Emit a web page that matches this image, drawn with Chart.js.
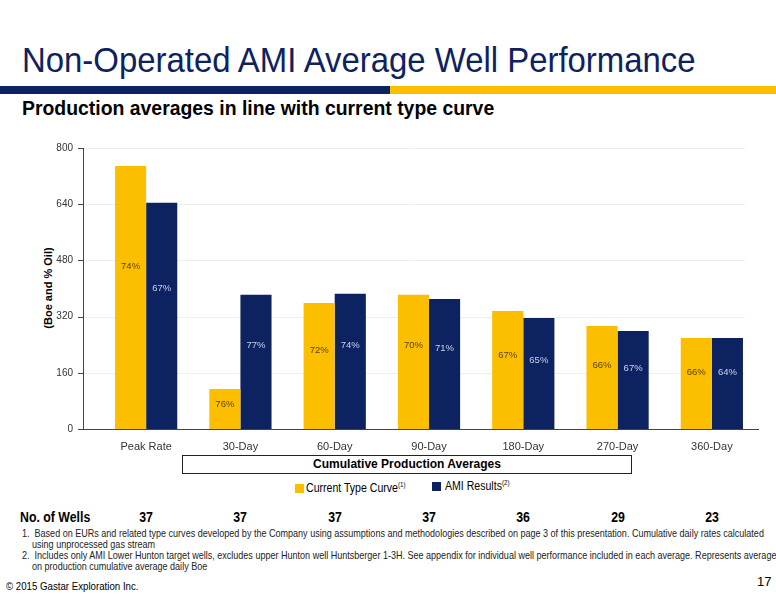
<!DOCTYPE html>
<html><head><meta charset="utf-8">
<script src="https://cdn.jsdelivr.net/npm/chart.js@4"></script>
<style>
body{margin:0;width:776px;height:600px;position:relative;background:#fff;font-family:"Liberation Sans",Arial,sans-serif;overflow:hidden}
.a{position:absolute;white-space:nowrap}
.n{transform-origin:0 0}
</style></head><body>
<div class="a n" style="left:22px;top:40px;font-size:35px;color:#0d2260;transform:scaleX(0.94)">Non-Operated AMI Average Well Performance</div>
<div class="a" style="left:0;top:86px;width:390px;height:8px;background:#0d2260"></div>
<div class="a" style="left:390px;top:86px;width:386px;height:8px;background:#fbbf00"></div>
<div class="a n" style="left:22px;top:97px;font-size:20px;font-weight:bold;color:#000;transform:scaleX(0.97)">Production averages in line with current type curve</div>
<div class="a" style="left:48px;top:288px;transform:translate(-50%,-50%) rotate(-90deg);font-size:11px;font-weight:bold">(Boe and % Oil)</div>
<div style="position:absolute;left:0;top:135px;width:776px;height:320px"><canvas id="c"></canvas></div>
<div class="a" style="left:182px;top:455px;width:448px;height:17px;border:1px solid #222;text-align:center;font-size:12px;font-weight:bold;line-height:17px">Cumulative Production Averages</div>
<div class="a" style="left:295px;top:484px;width:9px;height:9px;background:#fbbf00"></div>
<div class="a n" style="left:306px;top:481px;font-size:12px;transform:scaleX(0.88)">Current Type Curve<sup style="font-size:7px">(1)</sup></div>
<div class="a" style="left:432px;top:482px;width:9px;height:9px;background:#0d2260"></div>
<div class="a n" style="left:445px;top:479px;font-size:12px;transform:scaleX(0.88)">AMI Results<sup style="font-size:7px">(2)</sup></div>
<div class="a n" style="left:20px;top:509px;font-size:14px;font-weight:bold;transform:scaleX(0.88)">No. of Wells</div>
<div id="wells"></div>
<div class="a n" style="left:22px;top:528px;font-size:10.5px;line-height:11px;color:#222;transform:scaleX(0.86)">1.&nbsp;&nbsp;Based on EURs and related type curves developed by the Company using assumptions and methodologies described on page 3 of this presentation. Cumulative daily rates calculated<br>&nbsp;&nbsp;&nbsp;&nbsp;using unprocessed gas stream<br>2.&nbsp;&nbsp;Includes only AMI Lower Hunton target wells, excludes upper Hunton well Huntsberger 1-3H. See appendix for individual well performance included in each average. Represents average<br>&nbsp;&nbsp;&nbsp;&nbsp;on production cumulative average daily Boe</div>
<div class="a n" style="left:6px;top:580px;font-size:11px;transform:scaleX(0.88)">© 2015 Gastar Exploration Inc.</div>
<div class="a" style="left:757px;top:574px;font-size:13px">17</div>
<script>
const categories=["Peak Rate","30-Day","60-Day","90-Day","180-Day","270-Day","360-Day"];
const typeCurve=[749,114,359,382,336,293,259];
const amiResults=[644,382,385,370,316,279,259];
const typeOilPct=["74%","76%","72%","70%","67%","66%","66%"];
const amiOilPct=["67%","77%","74%","71%","65%","67%","64%"];
const wells=[37,37,37,37,36,29,23];
const yTicks=[0,160,320,480,640,800];
const AXIS_X=83, GRID_R=745;

const gridPlugin={id:'grid',beforeDatasetsDraw(ch){
  const ctx=ch.ctx,y=ch.scales.y;ctx.save();
  ctx.strokeStyle='#eeeeee';ctx.lineWidth=1;
  yTicks.forEach(v=>{if(!v)return;const p=Math.round(y.getPixelForValue(v))+0.5;ctx.beginPath();ctx.moveTo(AXIS_X-5,p);ctx.lineTo(GRID_R,p);ctx.stroke();});
  ctx.strokeStyle='#444';
  yTicks.forEach(v=>{const p=Math.round(y.getPixelForValue(v))+0.5;ctx.beginPath();ctx.moveTo(AXIS_X-5,p);ctx.lineTo(AXIS_X,p);ctx.stroke();});
  ctx.beginPath();ctx.moveTo(AXIS_X+0.5,y.top);ctx.lineTo(AXIS_X+0.5,y.bottom);ctx.stroke();
  ctx.beginPath();ctx.moveTo(AXIS_X,y.bottom+0.5);ctx.lineTo(ch.chartArea.right,y.bottom+0.5);ctx.stroke();
  ctx.fillStyle='#333';ctx.font='10px "Liberation Sans",Arial';ctx.textAlign='right';ctx.textBaseline='middle';
  yTicks.forEach(v=>ctx.fillText(String(v),AXIS_X-10,y.getPixelForValue(v)));
  ctx.restore();}};
const pctPlugin={id:'pct',afterDatasetsDraw(ch){
  const ctx=ch.ctx;ctx.save();ctx.font='9.5px "Liberation Sans",Arial';ctx.textAlign='center';ctx.textBaseline='middle';
  [[0,typeOilPct,'#5a3e00'],[1,amiOilPct,'#c9d2ec']].forEach(([i,lab,col])=>{
    ch.getDatasetMeta(i).data.forEach((b,j)=>{
      const yv=ch.scales.y.getPixelForValue(ch.data.datasets[i].data[j]*0.62);
      ctx.fillStyle=col;ctx.fillText(lab[j],b.x,yv);});
  });ctx.restore();
  const w=document.getElementById('wells');w.innerHTML='';
  ch.getDatasetMeta(0).data.forEach((b,j)=>{
    const x=(b.x+ch.getDatasetMeta(1).data[j].x)/2;
    w.innerHTML+=`<div class="a" style="left:${x}px;top:509px;font-size:14px;font-weight:bold;transform:translateX(-50%) scaleX(0.88)">${wells[j]}</div>`;});
}};
new Chart(document.getElementById('c'),{type:'bar',
 data:{labels:categories,datasets:[
  {label:'Current Type Curve',data:typeCurve,backgroundColor:'#fbbf00'},
  {label:'AMI Results',data:amiResults,backgroundColor:'#0d2260'}]},
 options:{responsive:true,maintainAspectRatio:false,animation:false,
  layout:{padding:{top:13,right:17,left:0}},
  datasets:{bar:{categoryPercentage:0.66,barPercentage:1}},
  plugins:{legend:{display:false},tooltip:{enabled:false}},
  scales:{
   x:{grid:{display:false},border:{display:false},ticks:{color:'#333',font:{size:11}},afterFit(s){s.height=26;}},
   y:{min:0,max:800,afterBuildTicks(s){s.ticks=yTicks.map(v=>({value:v}));},
      grid:{display:false},border:{display:false},
      ticks:{display:false},afterFit(s){s.width=99;}}}},
 plugins:[gridPlugin,pctPlugin]});
</script>
</body></html>
